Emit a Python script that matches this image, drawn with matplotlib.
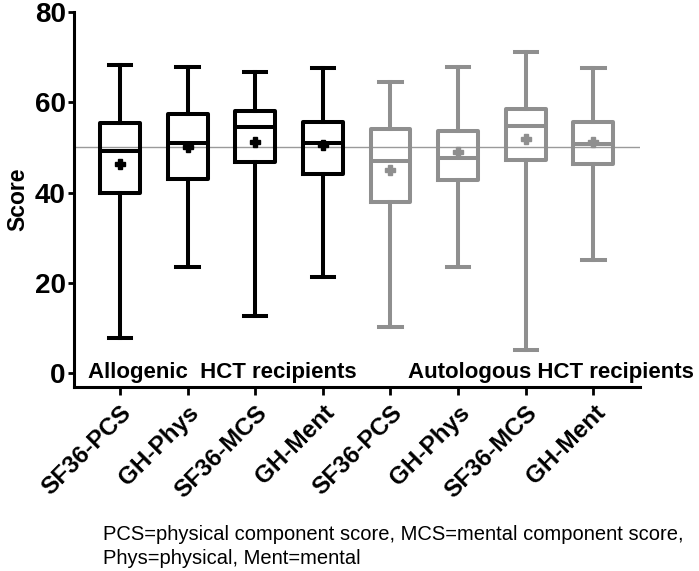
import matplotlib
matplotlib.use('Agg')
from matplotlib import pyplot as plt

# Valores
labels = ['SF36-PCS', 'GH-Phys', 'SF36-MCS', 'GH-Ment',
          'SF36-PCS', 'GH-Phys', 'SF36-MCS', 'GH-Ment']
whislo = [7.8, 23.4, 12.7, 21.2, 10.2, 23.4, 5.0, 25.1]
q1 = [40.0, 42.9, 46.8, 44.1, 38.0, 42.7, 47.2, 46.4]
med = [49.3, 50.9, 54.6, 50.9, 46.9, 47.6, 54.7, 50.8]
q3 = [55.3, 57.3, 58.1, 55.6, 54.0, 53.6, 58.4, 55.6]
whishi = [68.2, 67.8, 66.7, 67.7, 64.4, 67.8, 71.2, 67.6]
means = [46.4, 50.0, 51.2, 50.5, 45.0, 49.0, 51.8, 51.2]
groups = ['allo'] * 4 + ['auto'] * 4
ref_score = 50

plt.rcParams['font.family'] = ['Liberation Sans', 'DejaVu Sans']

fig = plt.figure(figsize=(6.99, 5.71), dpi=100)
ax = fig.add_axes([0.1059, 0.3222, 0.8097, 0.6568])

colors = {'allo': 'black', 'auto': '#8f8f8f'}

for i in range(len(labels)):
    c = colors[groups[i]]
    stats = [{'whislo': whislo[i], 'q1': q1[i], 'med': med[i], 'q3': q3[i],
              'whishi': whishi[i], 'mean': means[i], 'fliers': []}]
    ax.bxp(stats, positions=[i], widths=0.59, showmeans=True, showfliers=False,
           boxprops=dict(color=c, linewidth=2.9),
           whiskerprops=dict(color=c, linewidth=2.9),
           capprops=dict(color=c, linewidth=2.9),
           medianprops=dict(color=c, linewidth=2.9),
           meanprops=dict(marker='P', markerfacecolor=c, markeredgecolor=c, markersize=6.5),
           capwidths=0.33, manage_ticks=False)

ax.axhline(ref_score, color='#9a9a9a', linewidth=1, zorder=0)

ax.set_xlim(-0.68, 7.69)
ax.set_ylim(-3.1, 80)
ax.set_yticks([0, 20, 40, 60, 80])
ax.set_xticks(range(len(labels)))
ax.set_xticklabels(labels, rotation=45, ha='right', rotation_mode='anchor',
                   fontsize=17.5, fontweight='bold')
for t in ax.get_yticklabels():
    t.set_fontsize(20)
    t.set_fontweight('bold')
ax.tick_params(axis='y', length=4, width=2, pad=2)
ax.tick_params(axis='x', length=6, width=2, pad=4)

ax.spines['top'].set_visible(False)
ax.spines['right'].set_visible(False)
ax.spines['left'].set_linewidth(2.2)
ax.spines['bottom'].set_linewidth(2.2)

ax.set_ylabel('Score', fontsize=16.5, fontweight='bold', labelpad=4)

ax.text(-0.47, 0.2, 'Allogenic  HCT recipients', fontsize=16, fontweight='bold',
        va='center', ha='left')
ax.text(4.26, 0.2, 'Autologous HCT recipients', fontsize=16, fontweight='bold',
        va='center', ha='left', clip_on=False)

fig.text(0.147, 0.006, 'PCS=physical component score, MCS=mental component score,\n'
         'Phys=physical, Ment=mental', fontsize=14.5, ha='left', va='bottom',
         linespacing=1.3)

fig.savefig('out.png', dpi=100)
